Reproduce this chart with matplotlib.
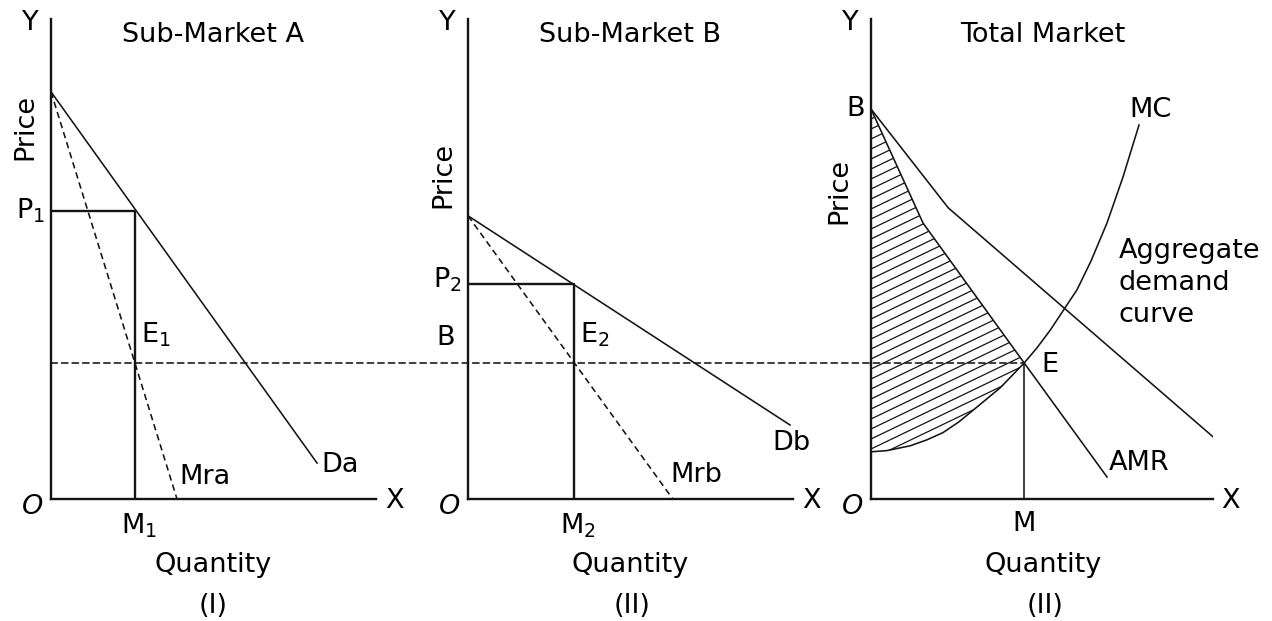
import numpy as np
import matplotlib
matplotlib.use("Agg")
import matplotlib.pyplot as plt
from matplotlib.patches import ConnectionPatch, Polygon

# sub-market A : demand Da and marginal revenue Mra
da_q = [0, 6.65]
da_p = [10.18, 0.9]
mra_q = [0, 3.15]
mra_p = [10.18, 0]
p1, m1 = 7.2, 2.1

# sub-market B : demand Db and marginal revenue Mrb
db_q = [0, 8.05]
db_p = [7.08, 1.85]
mrb_q = [0, 5.12]
mrb_p = [7.08, 0]
p2, m2 = 5.38, 2.65

# total market : aggregate demand, AMR and MC
ad_q = [0, 1.93, 8.73]
ad_p = [9.75, 7.28, 1.4]
amr_q = [0, 1.3, 3.83, 5.9]
amr_p = [9.75, 6.9, 3.4, 0.55]
mc_q = [0, 0.4, 0.98, 1.4, 1.8, 2.2, 2.65, 3.23, 3.83, 4.15, 4.48, 5.15, 5.5, 5.9, 6.3, 6.7]
mc_p = [1.18, 1.21, 1.33, 1.48, 1.66, 1.93, 2.3, 2.78, 3.4, 3.78, 4.22, 5.23, 5.95, 6.9, 8.05, 9.35]
q_total = 3.83
mr_level = 3.4  # common MR = MC level

W, H = 1272, 621
fig = plt.figure(figsize=(W / 100, H / 100), dpi=100)
plt.rcParams['font.family'] = ['DejaVu Sans']

unit = 40.0  # pixels per data unit
base_y = 499
fs = 19.5
lw_ax = 1.7
lw = 1.15
ink = '#141414'


def make_panel(ox, xmax, ymax=12.0):
    ax = fig.add_axes([ox / W, (H - base_y) / H, xmax * unit / W, ymax * unit / H])
    ax.set_xlim(0, xmax)
    ax.set_ylim(0, ymax)
    for s in ['top', 'right']:
        ax.spines[s].set_visible(False)
    for s in ['left', 'bottom']:
        ax.spines[s].set_linewidth(lw_ax)
        ax.spines[s].set_color(ink)
    ax.set_xticks([])
    ax.set_yticks([])
    ax.patch.set_alpha(0)
    # axis letters
    ax.text(-0.3, ymax - 0.1, 'Y', fontsize=fs, ha='right', va='center')
    ax.text(-0.45, -0.2, 'O', fontsize=fs, ha='center', va='center', style='italic')
    ax.text(xmax + 0.45, -0.05, 'X', fontsize=fs, ha='center', va='center')
    return ax


ax_a = make_panel(51, 8.125)
ax_b = make_panel(468, 8.125)
ax_c = make_panel(871, 8.55)

dash = (0, (4, 2.6))

# ---- panel A
ax_a.plot(da_q, da_p, color=ink, lw=lw)
ax_a.plot(mra_q, mra_p, color=ink, lw=lw, linestyle=dash)
ax_a.plot([0, m1, m1], [p1, p1, 0], color=ink, lw=lw_ax)
ax_a.text(4.05, 11.6, 'Sub-Market A', fontsize=fs, ha='center', va='center')
ax_a.text(-0.65, 9.3, 'Price', fontsize=fs, rotation=90, ha='center', va='center')
ax_a.text(-0.15, p1, r'$\mathregular{P_1}$', fontsize=fs, ha='right', va='center')
ax_a.text(m1 + 0.1, -0.3, r'$\mathregular{M_1}$', fontsize=fs, ha='center', va='top')
ax_a.text(2.25, 4.1, r'$\mathregular{E_1}$', fontsize=fs, ha='left', va='center')
ax_a.text(3.2, 0.55, 'Mra', fontsize=fs, ha='left', va='center')
ax_a.text(6.75, 0.85, 'Da', fontsize=fs, ha='left', va='center')
ax_a.text(4.05, -1.65, 'Quantity', fontsize=fs, ha='center', va='center')
ax_a.text(4.05, -2.68, '(I)', fontsize=fs, ha='center', va='center')

# ---- panel B
ax_b.plot(db_q, db_p, color=ink, lw=lw)
ax_b.plot(mrb_q, mrb_p, color=ink, lw=lw, linestyle=dash)
ax_b.plot([0, m2, m2], [p2, p2, 0], color=ink, lw=lw_ax)
ax_b.text(4.05, 11.6, 'Sub-Market B', fontsize=fs, ha='center', va='center')
ax_b.text(-0.62, 8.1, 'Price', fontsize=fs, rotation=90, ha='center', va='center')
ax_b.text(-0.15, p2 + 0.1, r'$\mathregular{P_2}$', fontsize=fs, ha='right', va='center')
ax_b.text(-0.55, 4.03, 'B', fontsize=fs, ha='center', va='center')
ax_b.text(m2 + 0.1, -0.3, r'$\mathregular{M_2}$', fontsize=fs, ha='center', va='top')
ax_b.text(2.8, 4.1, r'$\mathregular{E_2}$', fontsize=fs, ha='left', va='center')
ax_b.text(5.05, 0.6, 'Mrb', fontsize=fs, ha='left', va='center')
ax_b.text(7.6, 1.4, 'Db', fontsize=fs, ha='left', va='center')
ax_b.text(4.05, -1.65, 'Quantity', fontsize=fs, ha='center', va='center')
ax_b.text(4.1, -2.68, '(II)', fontsize=fs, ha='center', va='center')

# ---- panel C
ax_c.plot(ad_q, ad_p, color=ink, lw=lw)
ax_c.plot(amr_q, amr_p, color=ink, lw=lw)
ax_c.plot(mc_q, mc_p, color=ink, lw=lw)
ax_c.plot([q_total, q_total], [0, mr_level], color=ink, lw=lw)

# shaded area between AMR and MC up to E
i_amr = amr_q.index(q_total)
i_mc = mc_q.index(q_total)
poly = np.column_stack([
    [0] + amr_q[:i_amr + 1] + mc_q[:i_mc + 1][::-1],
    [mc_p[0]] + amr_p[:i_amr + 1] + mc_p[:i_mc + 1][::-1],
])
region = Polygon(poly, closed=True, facecolor='none', edgecolor='none')
ax_c.add_patch(region)
hatch_slope = 0.48
for c in np.arange(-2.0, 10.0, 0.25):
    xs = np.array([0, q_total + 0.5])
    ln, = ax_c.plot(xs, c + hatch_slope * xs, color=ink, lw=0.9)
    ln.set_clip_path(region)

ax_c.text(4.3, 11.6, 'Total Market', fontsize=fs, ha='center', va='center')
ax_c.text(-0.78, 7.7, 'Price', fontsize=fs, rotation=90, ha='center', va='center')
ax_c.text(-0.15, ad_p[0], 'B', fontsize=fs, ha='right', va='center')
ax_c.text(6.45, 9.72, 'MC', fontsize=fs, ha='left', va='center')
ax_c.text(6.2, 5.4, 'Aggregate\ndemand\ncurve', fontsize=fs, ha='left', va='center', linespacing=1.32)
ax_c.text(4.25, mr_level - 0.05, 'E', fontsize=fs, ha='left', va='center')
ax_c.text(5.95, 0.9, 'AMR', fontsize=fs, ha='left', va='center')
ax_c.text(q_total, -0.3, 'M', fontsize=fs, ha='center', va='top')
ax_c.text(4.3, -1.65, 'Quantity', fontsize=fs, ha='center', va='center')
ax_c.text(4.35, -2.68, '(II)', fontsize=fs, ha='center', va='center')

# common MR level running across all three panels
con = ConnectionPatch(xyA=(0, mr_level), coordsA=ax_a.transData,
                      xyB=(q_total, mr_level), coordsB=ax_c.transData,
                      color=ink, lw=lw, linestyle=dash)
fig.add_artist(con)

fig.savefig('out.png', dpi=100, facecolor='white')
